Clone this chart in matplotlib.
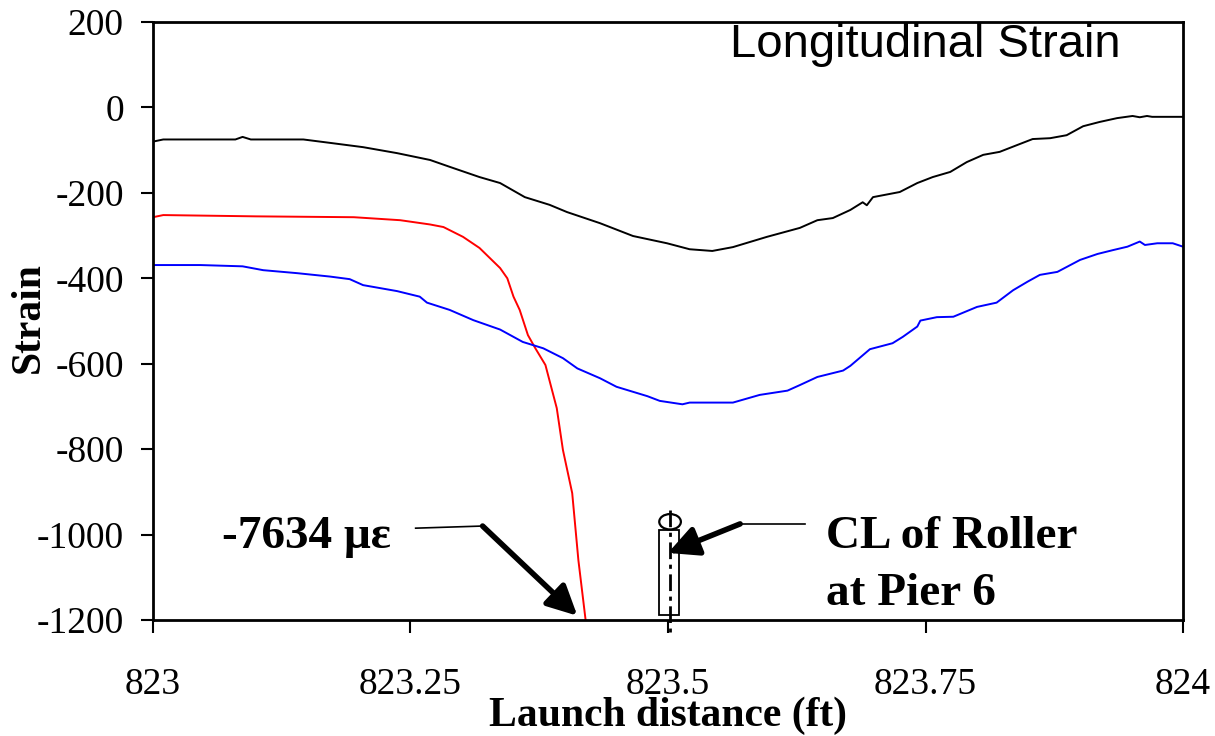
import matplotlib
matplotlib.use("Agg")
import matplotlib.pyplot as plt
from matplotlib.patches import Rectangle, Ellipse

# gage readings vs launch distance
x_black = [823.000, 823.010, 823.080, 823.087, 823.095, 823.146, 823.172, 823.204, 823.237,
           823.269, 823.288, 823.317, 823.337, 823.361, 823.385, 823.402, 823.434, 823.466,
           823.499, 823.521, 823.543, 823.563, 823.596, 823.628, 823.645, 823.660, 823.677,
           823.689, 823.693, 823.699, 823.725, 823.742, 823.757, 823.774, 823.790, 823.806,
           823.822, 823.839, 823.854, 823.871, 823.887, 823.903, 823.919, 823.936, 823.951,
           823.958, 823.965, 823.970, 824.000]
y_black = [-80, -75, -75, -69, -75, -75, -83, -93, -107,
           -123, -139, -163, -177, -210, -228, -245, -271, -301,
           -318, -332, -336, -327, -303, -282, -264, -259, -240,
           -222, -229, -210, -198, -177, -163, -151, -128, -111,
           -104, -88, -74, -72, -65, -44, -34, -25, -20,
           -23, -20, -22, -22]

x_red = [823.000, 823.010, 823.100, 823.195, 823.240, 823.269, 823.282, 823.301, 823.317,
         823.337, 823.344, 823.350, 823.356, 823.364, 823.371, 823.381, 823.392, 823.398,
         823.407, 823.413, 823.420]
y_red = [-257, -252, -255, -257, -264, -274, -280, -303, -329,
         -376, -400, -443, -474, -533, -563, -603, -704, -802,
         -903, -1060, -1200]

x_blue = [823.000, 823.046, 823.087, 823.107, 823.140, 823.172, 823.191, 823.204, 823.237,
          823.259, 823.266, 823.288, 823.311, 823.337, 823.359, 823.379, 823.398, 823.412,
          823.434, 823.450, 823.480, 823.492, 823.514, 823.521, 823.563, 823.589, 823.616,
          823.628, 823.645, 823.670, 823.677, 823.696, 823.718, 823.728, 823.742, 823.745,
          823.761, 823.777, 823.800, 823.819, 823.835, 823.849, 823.861, 823.878, 823.900,
          823.917, 823.932, 823.946, 823.958, 823.963, 823.975, 823.990, 824.000]
y_blue = [-369, -369, -372, -381, -388, -396, -402, -416, -430,
          -443, -457, -474, -498, -520, -549, -564, -587, -611,
          -634, -654, -676, -687, -695, -691, -691, -673, -663,
          -650, -631, -616, -605, -566, -552, -537, -513, -499,
          -491, -490, -467, -457, -428, -408, -392, -385, -357,
          -343, -334, -326, -314, -322, -318, -318, -326]

x_ticks = [823, 823.25, 823.5, 823.75, 824]
x_ticklabels = ['823', '823.25', '823.5', '823.75', '824']
y_ticks = [200, 0, -200, -400, -600, -800, -1000, -1200]

roller_x = 823.502
peak_label = '-7634 \u03bc\u03b5'

serif = 'Liberation Serif'
sans = 'Liberation Sans'
plt.rcParams['axes.unicode_minus'] = False

fig = plt.figure(figsize=(12.15, 7.36), dpi=100)
ax = fig.add_axes([0.1259, 0.1576, 0.8478, 0.8125])

ax.plot(x_black, y_black, color='black', lw=1.4)
ax.plot(x_red, y_red, color='red', lw=1.4)
ax.plot(x_blue, y_blue, color='blue', lw=1.4)

ax.set_xlim(823, 824)
ax.set_ylim(-1200, 200)
ax.set_xticks(x_ticks)
ax.set_xticklabels(x_ticklabels)
ax.set_yticks(y_ticks)
for s in ax.spines.values():
    s.set_linewidth(2)
ax.tick_params(axis='both', direction='out', length=9, width=1.5, labelsize=27)
ax.tick_params(axis='x', pad=25)
ax.tick_params(axis='y', pad=12)
for lab in ax.get_xticklabels() + ax.get_yticklabels():
    lab.set_family(serif)

ax.set_xlabel('Launch distance (ft)', family=serif, fontsize=30, fontweight='bold')
ax.xaxis.label.set_va('baseline')
ax.xaxis.set_label_coords(0.5, -0.1773)
ax.set_ylabel('Strain', family=serif, fontsize=30, fontweight='bold')
ax.yaxis.label.set_va('center')
ax.yaxis.set_label_coords(-0.1204, 0.505)

ax.text(823.939, 118, 'Longitudinal Strain', family=sans, fontsize=34, ha='right', va='baseline')

# peak annotation
ax.text(823.067, -1031, peak_label, family=serif, fontsize=34, fontweight='bold', va='baseline')
ax.plot([823.255, 823.320], [-985, -980], color='black', lw=1.2)
ax.annotate('', xy=(823.412, -1190), xytext=(823.320, -980),
            arrowprops=dict(arrowstyle='-|>,head_length=0.9,head_width=0.45',
                            lw=4, color='black', shrinkA=0, shrinkB=0, mutation_scale=20))

# roller symbol
ax.add_patch(Rectangle((823.491, -1188), 0.020, 198, fill=False, ec='black', lw=1.3))
ax.add_patch(Ellipse((roller_x, -970), 0.021, 36, fill=False, ec='black', lw=1.6))
ax.plot([roller_x, roller_x], [-942, -1227], color='black', lw=2,
        linestyle=(0, (6, 2, 1.5, 2)), clip_on=False)

ax.text(823.653, -1031, 'CL of Roller', family=serif, fontsize=34, fontweight='bold', va='baseline')
ax.text(823.653, -1165, 'at Pier 6', family=serif, fontsize=34, fontweight='bold', va='baseline')
ax.plot([823.570, 823.633], [-975, -975], color='black', lw=1.2)
ax.annotate('', xy=(823.500, -1043), xytext=(823.570, -975),
            arrowprops=dict(arrowstyle='-|>,head_length=0.9,head_width=0.45',
                            lw=4, color='black', shrinkA=0, shrinkB=0, mutation_scale=20))

fig.savefig('out.png', dpi=100)
